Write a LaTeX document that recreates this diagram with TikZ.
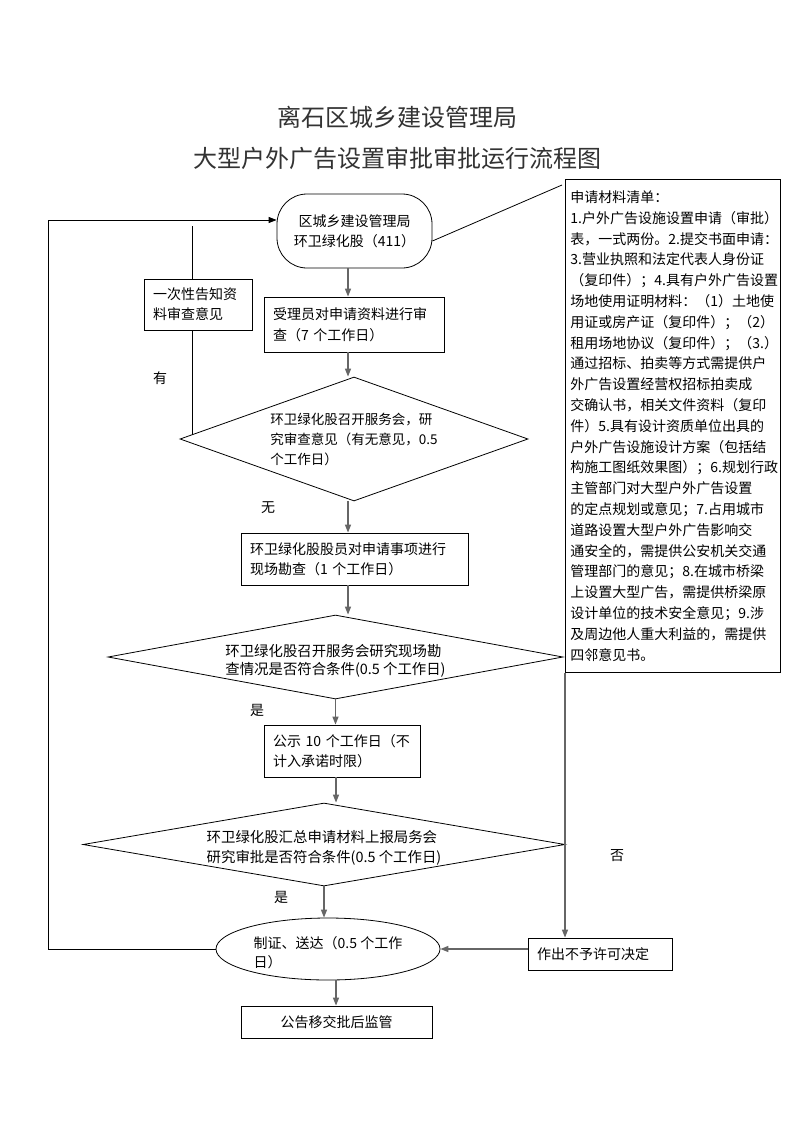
\documentclass[tikz,border=0pt]{standalone}
\usepackage{fontspec}
\setmainfont{Noto Sans CJK SC}
\usetikzlibrary{shapes.geometric,arrows.meta,calc}
\begin{document}
\begin{tikzpicture}[x=1pt,y=-1pt,
  box/.style={draw=black,line width=0.8pt,rectangle,inner sep=0pt,align=left,font=\fontsize{14}{20}\selectfont},
  pbox/.style={box,inner xsep=9pt,inner ysep=0pt},
  dia/.style={draw=black,line width=0.8pt,diamond,inner sep=0pt},
  arr/.style={draw=black!60,line width=1.3pt,-{Triangle[length=8pt,width=6pt]}},
  ln/.style={draw=black,line width=0.8pt},
  lbl/.style={font=\fontsize{14}{16}\selectfont,inner sep=0pt},
  txt/.style={align=left,inner sep=0pt},
  ttl/.style={font=\fontsize{24}{28}\selectfont,text=black!80,inner sep=0pt}
]
\useasboundingbox[fill=white] (0,0) rectangle (793,1122);

% title
\node[ttl] (t1) at (397,117) {离石区城乡建设管理局};
\node[ttl] (t2) at (397,158) {大型户外广告设置审批审批运行流程图};

% nodes
\node[box, rounded corners=30pt, minimum width=155pt, minimum height=74pt, align=center] (start) at (354.5,231) {区城乡建设管理局\\环卫绿化股（411）};
\node[pbox, text width=90pt, minimum height=51pt] (lb) at (198,304.5) {一次性告知资\\料审查意见};
\node[pbox, text width=162pt, minimum height=55pt, font=\fontsize{14}{21}\selectfont] (b2) at (354,324.5) {受理员对申请资料进行审\\查（7 个工作日）};
\node[dia, minimum width=348pt, minimum height=124pt,
  label={[txt,font=\fontsize{13.5}{20}\selectfont]center:{环卫绿化股召开服务会，研\\究审查意见（有无意见，0.5\\个工作日）}}] (d1) at (354,439) {};
\node[pbox, text width=209pt, minimum height=52pt] (b3) at (354.5,559) {环卫绿化股股员对申请事项进行\\现场勘查（1 个工作日）};
\node[dia, minimum width=455pt, minimum height=84pt,
  label={[txt,font=\fontsize{14.4}{18}\selectfont,yshift=-4pt]center:{环卫绿化股召开服务会研究现场勘\\查情况是否符合条件(0.5 个工作日)}}] (d2) at (335.5,657) {};
\node[pbox, text width=138pt, minimum height=52pt] (b4) at (342,751) {公示 10 个工作日（不\\计入承诺时限）};
\node[dia, minimum width=482pt, minimum height=83pt,
  label={[txt,font=\fontsize{14.4}{20}\selectfont,yshift=-3.5pt]center:{环卫绿化股汇总申请材料上报局务会\\研究审批是否符合条件(0.5 个工作日)}}] (d3) at (324,844.5) {};
\node[draw=black,line width=0.8pt,ellipse,inner sep=0pt,minimum width=224pt,minimum height=62pt,
  label={[txt,font=\fontsize{14}{19}\selectfont,yshift=-3.5pt]center:{制证、送达（0.5 个工作\\日）}}] (ell) at (328,949) {};
\node[pbox, text width=126pt, minimum height=32pt] (no) at (600,954) {作出不予许可决定};
\node[box, minimum width=191pt, minimum height=32pt] (fin) at (336.5,1022) {公告移交批后监管};

\node[box, anchor=north west, minimum width=215pt, minimum height=493pt, text width=205pt,
  font=\fontsize{14}{20.8}\selectfont] (rb) at (565,179) {申请材料清单：\\
1.户外广告设施设置申请（审批）\\
表，一式两份。2.提交书面申请：\\
3.营业执照和法定代表人身份证\\
（复印件）；4.具有户外广告设置\\
场地使用证明材料：（1）土地使\\
用证或房产证（复印件）；（2）\\
租用场地协议（复印件）；（3.）\\
通过招标、拍卖等方式需提供户\\
外广告设置经营权招标拍卖成\\
交确认书，相关文件资料（复印\\
件）5.具有设计资质单位出具的\\
户外广告设施设计方案（包括结\\
构施工图纸效果图）；6.规划行政\\
主管部门对大型户外广告设置\\
的定点规划或意见；7.占用城市\\
道路设置大型户外广告影响交\\
通安全的，需提供公安机关交通\\
管理部门的意见；8.在城市桥梁\\
上设置大型广告，需提供桥梁原\\
设计单位的技术安全意见；9.涉\\
及周边他人重大利益的，需提供\\
四邻意见书。};

% labels
\node[lbl] (lyou) at (160,378) {有};
\node[lbl] (lwu) at (268,508) {无};
\node[lbl] (lshi1) at (257,710) {是};
\node[lbl] (lfou) at (617,856) {否};
\node[lbl] (lshi2) at (281,897) {是};

% connectors
\coordinate (ax1) at (348,0);
\coordinate (ax2) at (336,0);
\draw[arr] (start.south -| ax1) -- (b2.north -| ax1);
\draw[arr] (b2.south -| ax1) -- (d1.north -| ax1);
\draw[arr] (d1.south -| ax1) -- (b3.north -| ax1);
\draw[arr] (b3.south -| ax1) -- (d2.north -| ax1);
\draw[arr] (d2.south) -- (d2.south |- b4.north);
\draw[arr] (b4.south -| ax2) -- (d3.north -| ax2);
\draw[arr] (d3.south) -- (d3.south |- ell.north);
\draw[arr] (ell.south -| ax2) -- (fin.north -| ax2);
\draw[arr] (no.west |- ell.east) -- (ell.east);
\draw[arr] (rb.south west) -- (rb.south west |- no.north);

\coordinate (lt) at (48,220);
\draw[ln,-{Triangle[length=8pt,width=6pt]}] (ell.west) -| (lt) -- (start.west |- lt);

\coordinate (lbt) at (192,226);
\coordinate (lbb) at (192,435);
\draw[ln] (lbt) -- (lbt |- lb.north);
\draw[ln] (lbt |- lb.south) -- (lbb);

\draw[ln] ($(start.east)+(0,10)$) -- ($(rb.north west)+(-3,6)$);
\end{tikzpicture}
\end{document}
